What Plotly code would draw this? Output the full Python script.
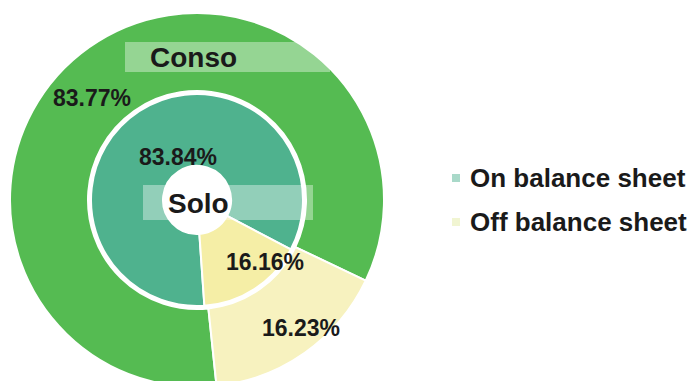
import plotly.graph_objects as go

labels = ["On balance sheet", "Off balance sheet"]
conso_values = [83.77, 16.23]
solo_values = [83.84, 16.16]
ring_names = ["Conso", "Solo"]

W, H = 694, 388
FONT = "Liberation Sans, Arial, sans-serif"

def px_x(x):
    return x / W

def px_y(y):
    return 1 - y / H

cx, cy = 197, 200
R_out, R_in = 187, 106

fig = go.Figure()
fig.add_trace(go.Pie(
    labels=labels, values=conso_values, sort=False, direction="clockwise",
    rotation=174, hole=109 / R_out,
    domain=dict(x=[px_x(cx - R_out), px_x(cx + R_out)], y=[px_y(cy + R_out), px_y(cy - R_out)]),
    marker=dict(colors=["#55bb52", "#f7f2bf"], line=dict(color="white", width=2)),
    textinfo="none", hoverinfo="label+percent", showlegend=False,
))
fig.add_trace(go.Pie(
    labels=labels, values=solo_values, sort=False, direction="clockwise",
    rotation=176, hole=34 / R_in,
    domain=dict(x=[px_x(cx - R_in), px_x(cx + R_in)], y=[px_y(cy + R_in), px_y(cy - R_in)]),
    marker=dict(colors=["#4fb28e", "#f5eea6"], line=dict(color="white", width=2)),
    textinfo="none", hoverinfo="label+percent", showlegend=False,
))

shapes = [
    dict(type="rect", xref="paper", yref="paper", x0=px_x(125), x1=px_x(330), y0=px_y(72), y1=px_y(42),
         fillcolor="rgba(255,255,255,0.38)", line=dict(width=0), layer="above"),
    dict(type="rect", xref="paper", yref="paper", x0=px_x(143), x1=px_x(313), y0=px_y(220), y1=px_y(185),
         fillcolor="rgba(255,255,255,0.38)", line=dict(width=0), layer="above"),
]

annotations = []
def ann(text, x, y, size, xanchor="center"):
    annotations.append(dict(text=f"<b>{text}</b>", x=px_x(x), y=px_y(y), xref="paper", yref="paper",
                            showarrow=False, xanchor=xanchor, yanchor="middle",
                            font=dict(family=FONT, size=size, color="#1a1a1a")))

ann(ring_names[0], 193, 57, 28)
ann(ring_names[1], 198, 203, 28)
ann(f"{conso_values[0]:.2f}%", 92, 98, 23)
ann(f"{solo_values[0]:.2f}%", 178, 157, 23)
ann(f"{solo_values[1]:.2f}%", 265, 262, 23)
ann(f"{conso_values[1]:.2f}%", 301, 328, 23)

legend_colors = ["#a9d9c9", "#f1f5d2"]
legend_y = [178, 222]
for lab, col, ly in zip(labels, legend_colors, legend_y):
    shapes.append(dict(type="rect", xref="paper", yref="paper", x0=px_x(452), x1=px_x(460),
                       y0=px_y(ly + 4), y1=px_y(ly - 4), fillcolor=col, line=dict(width=0)))
    ann(lab, 468, ly, 26, xanchor="left")

fig.update_layout(
    width=W, height=H, margin=dict(l=0, r=0, t=0, b=0),
    paper_bgcolor="white", plot_bgcolor="white",
    shapes=shapes, annotations=annotations,
)
fig.write_html("out.html")
